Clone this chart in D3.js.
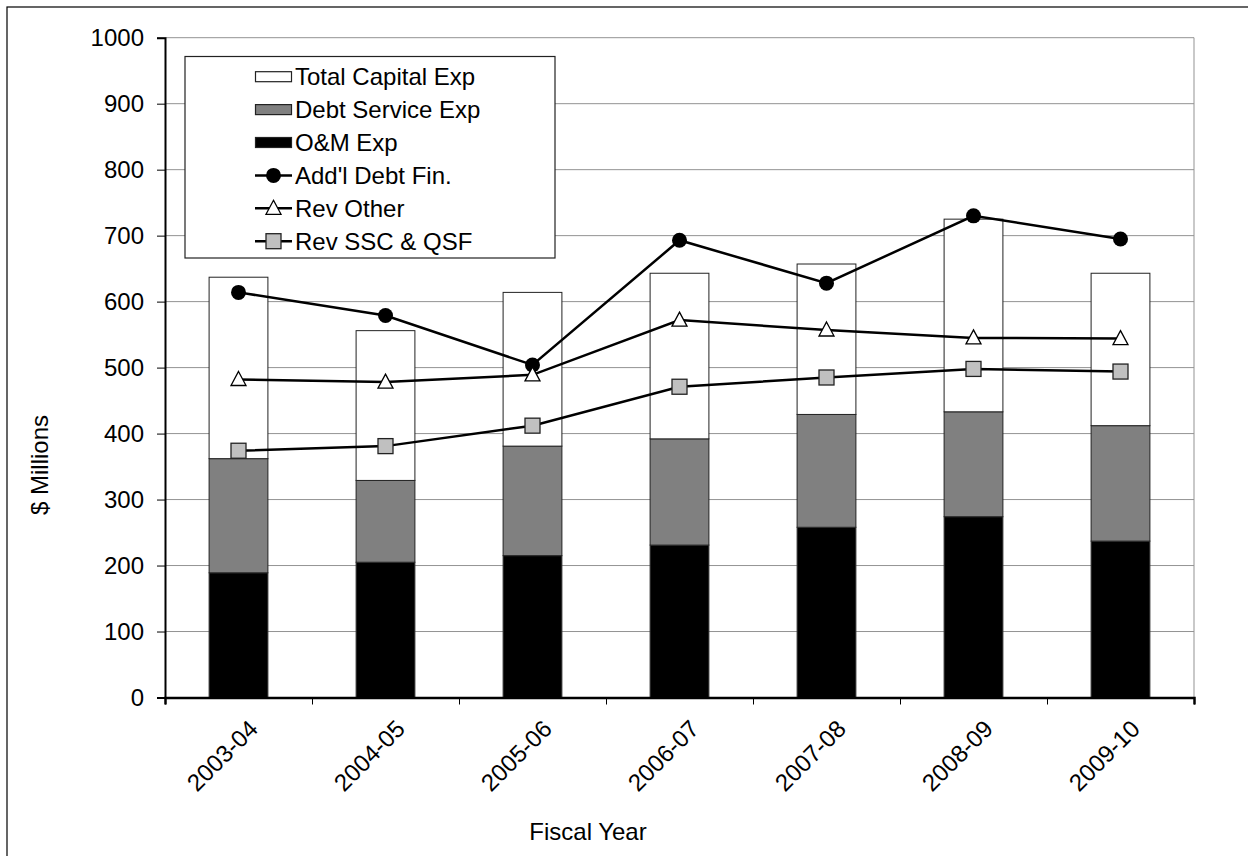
<!DOCTYPE html>
<html>
<head>
<meta charset="utf-8">
<script src="https://cdn.jsdelivr.net/npm/d3@7"></script>
<style>
  html, body { margin: 0; padding: 0; background: #fff; }
  svg { display: block; font-family: "Liberation Sans", Arial, sans-serif; }
</style>
</head>
<body>
<svg id="chart" width="1248" height="856"></svg>
<script>
// Fiscal years on the category axis
const years = ["2003-04", "2004-05", "2005-06", "2006-07", "2007-08", "2008-09", "2009-10"];

// Stacked expense components ($ millions), bottom to top
const omExp      = [189, 205, 215, 231, 258, 274, 237];
const debtSvcExp = [173, 124, 166, 161, 171, 159, 175];
const capitalExp = [275, 227, 233, 251, 228, 292, 231];

// Line series ($ millions)
const addlDebtFin = [614, 579, 504, 693, 628, 730, 695];
const revOther    = [482, 478, 489, 572, 557, 545, 544];
const revSscQsf   = [374, 381, 412, 471, 485, 498, 494];

const yTicks = [0, 100, 200, 300, 400, 500, 600, 700, 800, 900, 1000];

const FONT = 24;
const svg = d3.select("#chart");
const plot = { left: 165, right: 1194, top: 37.7, bottom: 697.5 };

// outer chart frame
svg.append("rect")
  .attr("x", 7).attr("y", 7).attr("width", 1300).attr("height", 900)
  .attr("fill", "#fff").attr("stroke", "#000").attr("stroke-width", 1.2);

const x = d3.scaleBand().domain(years)
  .range([plot.left, plot.right]).paddingInner(0.6).paddingOuter(0.3);
const xc = d => x(d) + x.bandwidth() / 2;
const y = d3.scaleLinear().domain([0, 1000]).range([plot.bottom, plot.top]);

// horizontal gridlines
svg.append("g").selectAll("line").data(yTicks.filter(v => v > 0)).join("line")
  .attr("x1", plot.left).attr("x2", plot.right)
  .attr("y1", d => y(d)).attr("y2", d => y(d))
  .attr("stroke", "#939393").attr("stroke-width", 1);
// right edge of plot area
svg.append("line")
  .attr("x1", plot.right).attr("x2", plot.right)
  .attr("y1", plot.top).attr("y2", plot.bottom)
  .attr("stroke", "#939393").attr("stroke-width", 1);

// stacked bars
const stackRows = years.map((yr, i) => ({ year: yr, om: omExp[i], debt: debtSvcExp[i], cap: capitalExp[i] }));
const stack = d3.stack().keys(["om", "debt", "cap"])(stackRows);
const fills = { om: "#000000", debt: "#808080", cap: "#ffffff" };
const strokes = { om: "#333", debt: "#222", cap: "#222" };
svg.append("g").selectAll("g").data(stack).join("g")
  .attr("fill", s => fills[s.key])
  .attr("stroke", s => strokes[s.key])
  .attr("stroke-width", 1)
  .selectAll("rect").data(s => s).join("rect")
  .attr("x", d => x(d.data.year))
  .attr("width", x.bandwidth())
  .attr("y", d => y(d[1]))
  .attr("height", d => y(d[0]) - y(d[1]));

// axes
const yAxis = d3.axisLeft(y).tickValues(yTicks).tickSize(8).tickPadding(13).tickFormat(d3.format("d"));
const gy = svg.append("g").attr("transform", `translate(${plot.left},0)`).call(yAxis);
gy.select(".domain").attr("stroke", "#000").attr("stroke-width", 2);
gy.selectAll(".tick line").attr("stroke", "#000").attr("stroke-width", 1);
gy.selectAll(".tick text").attr("font-size", FONT).attr("fill", "#000")
  .attr("font-family", "Liberation Sans, Arial, sans-serif");

const xAxisScale = d3.scaleLinear().domain([0, years.length]).range([plot.left, plot.right]);
const gx = svg.append("g").attr("transform", `translate(0,${plot.bottom})`)
  .call(d3.axisBottom(xAxisScale).tickValues(d3.range(years.length + 1)).tickSize(7).tickFormat(""));
gx.select(".domain").attr("stroke", "#000").attr("stroke-width", 2.5);
gx.selectAll(".tick line").attr("stroke", "#000").attr("stroke-width", 1);

// rotated category labels
svg.append("g").selectAll("text").data(years).join("text")
  .attr("transform", d => `translate(${xc(d) + 9},${plot.bottom + 21}) rotate(-45)`)
  .attr("text-anchor", "end")
  .attr("dy", "0.7em")
  .attr("font-size", FONT)
  .text(d => d);

// axis titles
svg.append("text")
  .attr("x", 588).attr("y", 840)
  .attr("text-anchor", "middle").attr("font-size", FONT)
  .text("Fiscal Year");
svg.append("text")
  .attr("transform", "translate(48,465) rotate(-90)")
  .attr("text-anchor", "middle").attr("font-size", FONT)
  .text("$ Millions");

// line series
const lineGen = d3.line().x((d, i) => xc(years[i])).y(d => y(d));
const lineSeries = [
  { name: "Add'l Debt Fin.", values: addlDebtFin, marker: "circle" },
  { name: "Rev Other", values: revOther, marker: "triangle" },
  { name: "Rev SSC & QSF", values: revSscQsf, marker: "square" }
];

function drawMarker(g, type, cx, cy) {
  if (type === "circle") {
    g.append("circle").attr("cx", cx).attr("cy", cy).attr("r", 7.5).attr("fill", "#000");
  } else if (type === "triangle") {
    g.append("path")
      .attr("d", `M${cx},${cy - 8} L${cx + 7.5},${cy + 6} L${cx - 7.5},${cy + 6} Z`)
      .attr("fill", "#fff").attr("stroke", "#000").attr("stroke-width", 1.3);
  } else {
    g.append("rect").attr("x", cx - 7.5).attr("y", cy - 7.5).attr("width", 15).attr("height", 15)
      .attr("fill", "#c0c0c0").attr("stroke", "#222").attr("stroke-width", 1.3);
  }
}

lineSeries.forEach(s => {
  const g = svg.append("g");
  g.append("path").attr("d", lineGen(s.values))
    .attr("fill", "none").attr("stroke", "#000").attr("stroke-width", 2.5);
  s.values.forEach((v, i) => drawMarker(g, s.marker, xc(years[i]), y(v)));
});

// legend
const legend = svg.append("g");
legend.append("rect")
  .attr("x", 185).attr("y", 56.5).attr("width", 370).attr("height", 201.5)
  .attr("fill", "#fff").attr("stroke", "#222").attr("stroke-width", 1.2);
const legendItems = [
  { name: "Total Capital Exp", kind: "bar", fill: "#ffffff" },
  { name: "Debt Service Exp", kind: "bar", fill: "#808080" },
  { name: "O&M Exp", kind: "bar", fill: "#000000" },
  { name: "Add'l Debt Fin.", kind: "line", marker: "circle" },
  { name: "Rev Other", kind: "line", marker: "triangle" },
  { name: "Rev SSC & QSF", kind: "line", marker: "square" }
];
legendItems.forEach((it, i) => {
  const cy = 76.7 + i * 32.9;
  const g = legend.append("g");
  if (it.kind === "bar") {
    g.append("rect").attr("x", 255.5).attr("y", cy - 5).attr("width", 36).attr("height", 10)
      .attr("fill", it.fill).attr("stroke", "#222").attr("stroke-width", 1.2);
  } else {
    g.append("line").attr("x1", 255).attr("x2", 292).attr("y1", cy).attr("y2", cy)
      .attr("stroke", "#000").attr("stroke-width", 2.5);
    drawMarker(g, it.marker, 273.5, cy);
  }
  g.append("text").attr("x", 295).attr("y", cy).attr("dy", "0.36em")
    .attr("font-size", FONT).text(it.name);
});
</script>
</body>
</html>
